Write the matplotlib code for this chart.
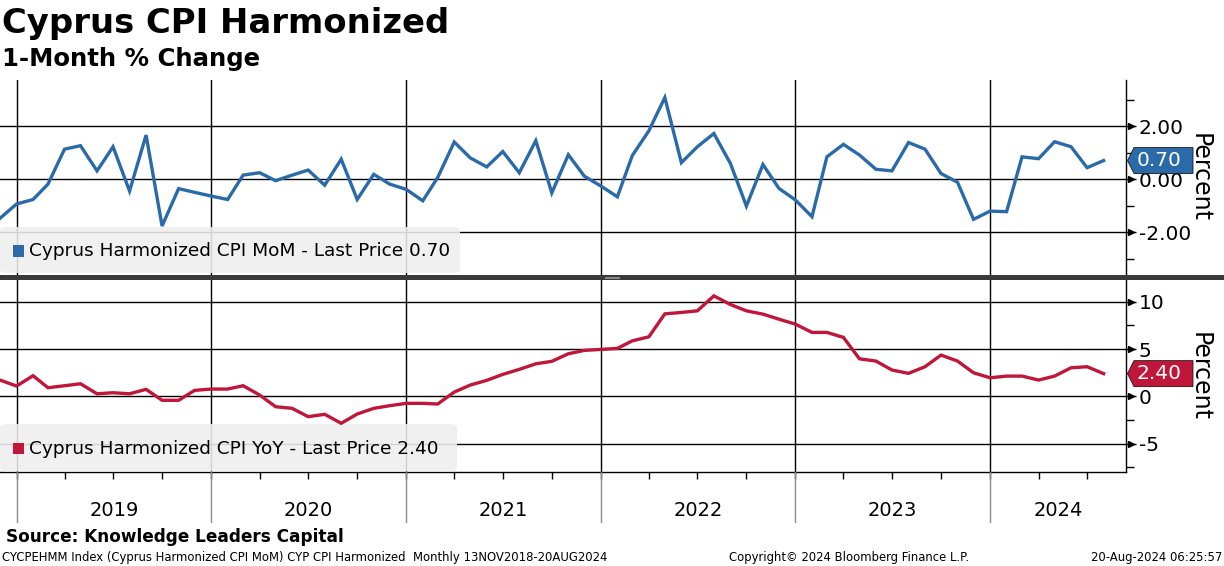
import matplotlib
matplotlib.use("Agg")
import matplotlib.pyplot as plt
import matplotlib.dates as mdates
import matplotlib.transforms as mtransforms
from matplotlib.patches import FancyBboxPatch, Rectangle, Polygon
import pandas as pd

# monthly data, Dec 2018 .. Aug 2024
dates = pd.date_range("2018-12-01", periods=69, freq="MS")

mom = [-1.48,
       -0.94, -0.77, -0.19, 1.13, 1.26, 0.31, 1.22, -0.45, 1.66, -1.77, -0.36, -0.50,
       -0.64, -0.77, 0.15, 0.24, -0.06, 0.15, 0.34, -0.23, 0.75, -0.77, 0.18, -0.19,
       -0.39, -0.82, 0.06, 1.40, 0.80, 0.46, 1.04, 0.24, 1.45, -0.52, 0.92, 0.11,
       -0.26, -0.67, 0.89, 1.82, 3.08, 0.62, 1.22, 1.72, 0.59, -1.02, 0.55, -0.35,
       -0.79, -1.42, 0.84, 1.31, 0.91, 0.37, 0.31, 1.38, 1.13, 0.21, -0.12, -1.52,
       -1.21, -1.23, 0.84, 0.77, 1.41, 1.22, 0.43, 0.70]

yoy = [1.72,
       1.09, 2.18, 0.91, 1.12, 1.33, 0.27, 0.38, 0.27, 0.74, -0.42, -0.42, 0.63,
       0.77, 0.77, 1.12, 0.14, -1.10, -1.27, -2.15, -1.90, -2.85, -1.87, -1.27, -0.99,
       -0.74, -0.74, -0.81, 0.45, 1.19, 1.69, 2.32, 2.85, 3.44, 3.70, 4.50, 4.86,
       4.96, 5.07, 5.87, 6.29, 8.72, 8.87, 9.04, 10.62, 9.71, 9.04, 8.69, 8.16,
       7.63, 6.76, 6.76, 6.23, 3.97, 3.73, 2.78, 2.43, 3.13, 4.36, 3.73, 2.49,
       1.96, 2.14, 2.14, 1.72, 2.14, 3.02, 3.13, 2.40]

years = [2019, 2020, 2021, 2022, 2023, 2024]
last_mom = "0.70"
last_yoy = "2.40"

BLUE = "#2b6aa8"
RED = "#c0163a"
W, H = 1224, 566

fig = plt.figure(figsize=(W / 100, H / 100), dpi=100)
fig.patch.set_facecolor("white")


def box(x0, y0, x1, y1):
    # pixel box (top-left origin) -> figure rect
    return [x0 / W, 1 - y1 / H, (x1 - x0) / W, (y1 - y0) / H]


ax1 = fig.add_axes(box(0, 80, 1126, 275))
ax2 = fig.add_axes(box(0, 280, 1126, 472), sharex=ax1)
ax3 = fig.add_axes(box(0, 472, 1126, 523), sharex=ax1)

xmin = pd.Timestamp("2018-12-01")
xmax = pd.Timestamp("2024-09-12")
year_ts = [pd.Timestamp(f"{y}-01-01") for y in years]

setups = [
    (ax1, mom, BLUE, (-3.62, 3.74), [-2, 0, 2], [-3, -1, 1, 3], "{:.2f}",
     "Cyprus Harmonized CPI MoM - Last Price " + last_mom, last_mom),
    (ax2, yoy, RED, (-8.0, 12.3), [-5, 0, 5, 10], [-7.5, -2.5, 2.5, 7.5], "{:.0f}",
     "Cyprus Harmonized CPI YoY - Last Price " + last_yoy, last_yoy),
]

for ax, vals, col, ylim, major, minor, fmt, label, last in setups:
    ax.plot(dates, vals, color=col, lw=2.4, zorder=5, solid_joinstyle="miter")
    ax.set_xlim(xmin, xmax)
    ax.set_ylim(*ylim)
    for s in ["top", "left", "bottom"]:
        ax.spines[s].set_visible(False)
    ax.spines["right"].set_linewidth(1.0)
    ax.yaxis.tick_right()
    ax.set_yticks(major)
    ax.set_yticks(minor, minor=True)
    ax.set_yticklabels([fmt.format(v) for v in major])
    ax.tick_params(axis="y", which="major", length=7, width=1, pad=2, labelsize=14.5)
    ax.tick_params(axis="y", which="minor", length=6, width=1)
    for v in major:
        ax.axhline(v, color="black", lw=1.0, zorder=2)
    for t in year_ts:
        ax.axvline(t, color="black", lw=1.0, zorder=2)
    # arrow heads at major ticks
    trans = mtransforms.blended_transform_factory(ax.transAxes, ax.transData)
    ax.plot([1.0045] * len(major), major, marker=">", ms=5, color="black",
            ls="none", transform=trans, clip_on=False, zorder=6)
    ax.set_ylabel("Percent", rotation=270, fontsize=17, va="center", ha="center")
    ax.yaxis.set_label_position("right")
    ax.yaxis.set_label_coords(1212 / 1126, 0.5)

    # legend box
    if ax is ax1:
        lb = (0, 227, 460, 273)
    else:
        lb = (0, 424, 457, 471.5)
    ax.add_patch(FancyBboxPatch((lb[0] / W, 1 - lb[3] / H), (lb[2] - lb[0]) / W,
                                (lb[3] - lb[1]) / H,
                                boxstyle="round,pad=0,rounding_size=0.006",
                                transform=fig.transFigure, facecolor="#efefef",
                                edgecolor="none", alpha=0.88, zorder=3, clip_on=False))
    cy = (lb[1] + lb[3]) / 2 + 1
    ax.add_patch(Rectangle((13 / W, 1 - (cy + 5.5) / H), 11 / W, 11 / H,
                           transform=fig.transFigure, facecolor=col,
                           edgecolor="none", zorder=4, clip_on=False))
    fig.text(29 / W, 1 - cy / H, label, fontsize=13.3, va="center", ha="left")

    # last value badge
    fig.canvas.draw()
    ypx = ax.transData.transform((mdates.date2num(dates[-1]), vals[-1]))[1]
    h = 13
    pts = [(1127.5, ypx), (1134, ypx + h), (1193, ypx + h), (1193, ypx - h), (1134, ypx - h)]
    fig.patches.append(Polygon([(px / W, py / H) for px, py in pts], closed=True,
                               transform=fig.transFigure, facecolor=col,
                               edgecolor="#1a1a1a", lw=0.6, zorder=10))
    fig.text(1159 / W, ypx / H, last, color="white", fontsize=14.5,
             ha="center", va="center", zorder=11)

# top panel: no x ticks
ax1.tick_params(axis="x", bottom=False, labelbottom=False)

# bottom panel: quarterly ticks on the bottom line
ax2.spines["bottom"].set_visible(True)
ax2.spines["bottom"].set_linewidth(1.0)
ax2.xaxis.set_major_locator(mdates.YearLocator())
ax2.xaxis.set_minor_locator(mdates.MonthLocator(bymonth=[4, 7, 10]))
ax2.tick_params(axis="x", which="both", length=5, width=1, labelbottom=False)

# year band
ax3.set_ylim(0, 1)
ax3.axis("off")
for t in year_ts:
    ax3.axvline(t, color="#8c8c8c", lw=1.0)
for i, y in enumerate(years):
    a = year_ts[i]
    b = min(pd.Timestamp(f"{y + 1}-01-01"), xmax)
    mid = a + (b - a) / 2
    ax3.text(mid, 0.24, str(y), ha="center", va="center", fontsize=14)

# separator between the panels
fig.patches.append(Rectangle((0, 1 - 280 / H), 1, 5 / H, transform=fig.transFigure,
                             facecolor="#3a3a3a", edgecolor="none", zorder=8))
for dy in (277, 278.5):
    fig.lines.append(plt.Line2D([605 / W, 619 / W], [1 - dy / H] * 2,
                                transform=fig.transFigure, color="#9a9a9a", lw=0.6,
                                zorder=9))

# titles and footer
fig.text(2 / W, 1 - 23 / H, "Cyprus CPI Harmonized", fontsize=24.4,
         fontweight="bold", va="center", ha="left")
fig.text(2 / W, 1 - 59 / H, "1-Month % Change", fontsize=17.6,
         fontweight="bold", va="center", ha="left")
fig.text(6 / W, 1 - 537 / H, "Source: Knowledge Leaders Capital", fontsize=12.2,
         fontweight="bold", va="center", ha="left")
fig.text(2 / W, 1 - 557 / H,
         "CYCPEHMM Index (Cyprus Harmonized CPI MoM) CYP CPI Harmonized  Monthly 13NOV2018-20AUG2024",
         fontsize=8.35, va="center", ha="left")
fig.text(849 / W, 1 - 557 / H, "Copyright\u00a9 2024 Bloomberg Finance L.P.",
         fontsize=8.35, va="center", ha="center")
fig.text(1222 / W, 1 - 557 / H, "20-Aug-2024 06:25:57", fontsize=8.35,
         va="center", ha="right")

fig.savefig("out.png", dpi=100)
